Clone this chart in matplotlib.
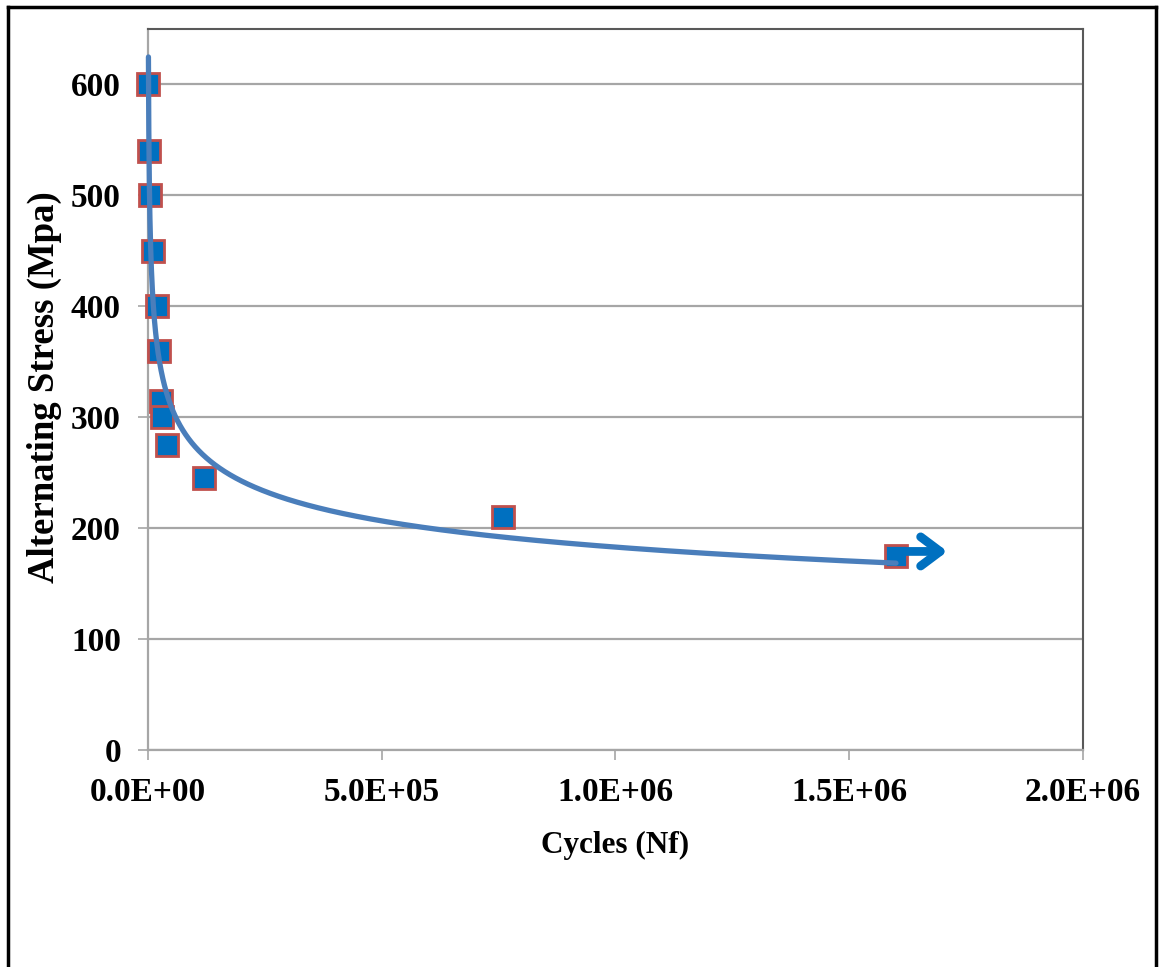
import numpy as np
import matplotlib
matplotlib.use("Agg")
import matplotlib.pyplot as plt
from matplotlib.lines import Line2D
import matplotlib.transforms as mtransforms

# Data
cycles = [900, 3000, 5000, 10000, 20000, 23000, 28000, 30000, 40000, 120000, 760000, 1600000]
stress = [600, 540, 500, 450, 400, 360, 315, 300, 275, 245, 210, 175]
x_ticks = [0, 5e5, 1e6, 1.5e6, 2e6]
x_tick_labels = ["0.0E+00", "5.0E+05", "1.0E+06", "1.5E+06", "2.0E+06"]
y_ticks = [0, 100, 200, 300, 400, 500, 600]

plt.rcParams['font.family'] = ['Liberation Serif', 'DejaVu Serif']
plt.rcParams['font.weight'] = 'bold'

fig = plt.figure(figsize=(11.6, 9.67), dpi=100)
ax = fig.add_axes([0.1276, 0.2244, 0.9336 - 0.1276, 0.970 - 0.2244])

# Outer frame (left, top, right)
for xs, ys in [([0.0065, 0.0065], [-0.01, 0.9925]),
               ([0.0065, 0.9965], [0.9925, 0.9925]),
               ([0.9965, 0.9965], [-0.01, 0.9925])]:
    fig.add_artist(Line2D(xs, ys, transform=fig.transFigure, color='black', lw=2.5))

ax.set_xlim(0, 2e6)
ax.set_ylim(0, 650)

# Power trendline fit (as Excel does: linear fit in log-log space)
lx = np.log(np.array(cycles, dtype=float))
ly = np.log(np.array(stress, dtype=float))
b, lna = np.polyfit(lx, ly, 1)
xf = np.linspace(min(cycles), max(cycles), 4000)
yf = np.exp(lna) * xf ** b

ax.plot(cycles, stress, linestyle='none', marker='s', markersize=16,
        markerfacecolor='#0070C0', markeredgecolor='#C0504D', markeredgewidth=2,
        zorder=3, clip_on=False)
ax.plot(xf, yf, color='#4A7EBB', lw=3.8, zorder=4, solid_capstyle='round', clip_on=False)

# Arrow to the right of the run-out point (positioned relative to it)
start_tr = mtransforms.offset_copy(ax.transData, fig=fig, x=7, y=3.2, units='points')
end_tr = mtransforms.offset_copy(ax.transData, fig=fig, x=37, y=3.2, units='points')
ax.annotate('', xy=(cycles[-1], stress[-1]), xycoords=end_tr,
            xytext=(cycles[-1], stress[-1]), textcoords=start_tr,
            arrowprops=dict(arrowstyle='->,head_length=1.4,head_width=1.05',
                            color='#0070C0', lw=6.3, shrinkA=0, shrinkB=0,
                            capstyle='round', joinstyle='round'),
            annotation_clip=False, zorder=5)

ax.set_xticks(x_ticks)
ax.set_xticklabels(x_tick_labels)
ax.set_yticks(y_ticks)
ax.grid(axis='y', color='#A6A6A6', lw=1.6)
ax.set_axisbelow(True)

for side in ['top', 'right']:
    ax.spines[side].set_color('#595959')
    ax.spines[side].set_linewidth(1.5)
for side in ['left', 'bottom']:
    ax.spines[side].set_color('#A6A6A6')
    ax.spines[side].set_linewidth(1.6)

ax.tick_params(axis='both', direction='out', length=7.5, width=1.2, color='#A6A6A6',
               labelsize=24)
ax.tick_params(axis='y', pad=12)
ax.tick_params(axis='x', pad=12)

ax.set_xlabel('Cycles (Nf)', fontsize=22.5, fontweight='bold')
ax.set_ylabel('Alternating Stress (Mpa)', fontsize=26.5, fontweight='bold')
ax.xaxis.set_label_coords(0.5, -0.112)
ax.yaxis.set_label_coords(-0.111, 0.503)
ax.yaxis.label.set_va('center')

fig.savefig('out.png', dpi=100)
